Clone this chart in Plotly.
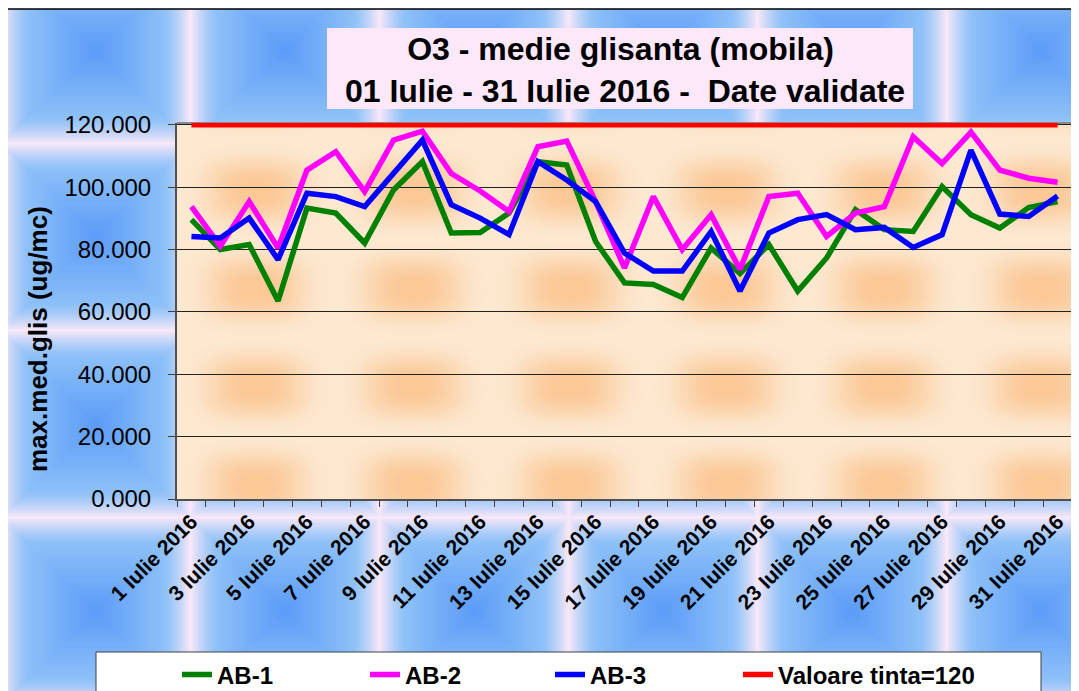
import base64
import struct
import zlib

import numpy as np
import plotly.graph_objects as go

# ---------- DATA ----------
days = list(range(1, 32))
day_labels = [f"{d} Iulie 2016" for d in days]

ab1 = [89.6, 80.0, 81.6, 63.5, 93.3, 91.7, 82.1, 99.1, 108.2, 85.3,
       85.5, 91.7, 108.2, 107.1, 82.6, 69.3, 68.8, 64.6, 80.5, 72.3,
       81.6, 66.7, 77.3, 92.8, 86.4, 85.8, 100.2, 91.2, 86.9, 93.5, 95.4]
ab2 = [93.8, 81.1, 95.4, 80.5, 105.5, 111.4, 98.6, 115.1, 118.0, 104.4,
       98.8, 92.2, 113.0, 114.8, 95.4, 74.1, 97.0, 80.0, 91.2, 73.6,
       97.0, 98.1, 84.2, 91.7, 93.8, 116.2, 107.6, 117.7, 105.5, 102.9, 101.6]
ab3 = [84.2, 83.7, 90.1, 76.8, 98.1, 97.0, 93.8, 104.5, 115.1, 94.4,
       90.1, 84.8, 108.2, 102.3, 95.4, 78.9, 73.1, 73.1, 85.8, 66.7,
       85.3, 89.6, 91.2, 86.4, 87.1, 80.7, 84.8, 111.9, 91.4, 90.6, 97.2]
tinta = [120, 120, 120, 120, 120, 120, 120, 120, 120, 120,
         120, 120, 120, 120, 120, 120, 120, 120, 120, 120,
         120, 120, 120, 120, 120, 120, 120, 120, 120, 120, 120]

series = [("AB-1", ab1, "#008000"),
          ("AB-2", ab2, "#FF00FF"),
          ("AB-3", ab3, "#0000FF"),
          ("Valoare tinta=120", tinta, "#FF0000")]

FONT = "Liberation Sans, Arial, sans-serif"

# page has an 8px body margin -> figure is drawn 8px right/down of the window origin
OFF = 8
FW, FH = 1079 - OFF, 691 - OFF

# plot area in window pixels
L, R, T, B = 177, 1072, 123, 499
W, H = R - L, B - T
px = lambda x: (x - L) / W
py = lambda y: (B - y) / H


# ---------- BACKGROUND TEXTURES (Excel-like fills) ----------
def png_uri(arr):
    h, w, _ = arr.shape
    raw = b"".join(b"\x00" + arr[i].tobytes() for i in range(h))

    def chunk(tag, data):
        c = struct.pack(">I", len(data)) + tag + data
        return c + struct.pack(">I", zlib.crc32(tag + data) & 0xFFFFFFFF)

    png = (b"\x89PNG\r\n\x1a\n"
           + chunk(b"IHDR", struct.pack(">IIBBBBB", w, h, 8, 2, 0, 0, 0))
           + chunk(b"IDAT", zlib.compress(raw, 9))
           + chunk(b"IEND", b""))
    return "data:image/png;base64," + base64.b64encode(png).decode()


def tile_xy(w, h, x0, y0, tw, th, cx0, cy0):
    xs = np.arange(w) + x0
    ys = np.arange(h) + y0
    dx = np.abs(((xs - cx0 + tw / 2) % tw) - tw / 2) / (tw / 2)
    dy = np.abs(((ys - cy0 + th / 2) % th) - th / 2) / (th / 2)
    return dx[None, :], dy[:, None]


# blue chart-area fill
dx, dy = tile_xy(1075, 682, 4, 9, 189, 187, 95.5, 49.5)
d = np.maximum(dx, dy)
c0 = np.array([92, 156, 248.0])
c1 = np.array([142, 193, 248.0])
c2 = np.array([248, 232, 248.0])
t1 = np.clip(d / 0.72, 0, 1)[..., None]
t2 = np.clip((d - 0.72) / 0.28, 0, 1)[..., None] ** 1.3
blue = c0 + (c1 - c0) * t1
blue = blue + (c2 - blue) * t2
paper_img = png_uri(blue.astype(np.uint8))

# peach plot-area fill (soft rounded blobs)
dx, dy = tile_xy(W, H, 0, 0, 157, 98, 78.5, 67)
d = (dx ** 3 + dy ** 3) ** (1 / 3)
edge = np.array([253, 232, 208.0])
core = np.array([251, 200, 150.0])
wgt = np.clip((0.95 - d) / 0.85, 0, 1)
wgt = (wgt * wgt * (3 - 2 * wgt))[..., None]
peach = edge + (core - edge) * wgt
plot_img = png_uri(peach.astype(np.uint8))

# ---------- FIGURE ----------
fig = go.Figure()
legend_keys = ["legend", "legend2", "legend3", "legend4"]
for (name, vals, col), lg in zip(series, legend_keys):
    fig.add_trace(go.Scatter(x=days, y=vals, name=name, mode="lines",
                             line=dict(color=col, width=5.5), legend=lg))

leg_text_x = [222, 410, 595, 783]
legends = {}
for lg, tx in zip(legend_keys, leg_text_x):
    legends[lg] = dict(x=px(tx - 45), y=py(675), xanchor="left", yanchor="middle",
                       orientation="h", bgcolor="rgba(0,0,0,0)", borderwidth=0,
                       font=dict(size=24, family=FONT, weight="bold"))

fig.update_layout(
    width=FW, height=FH,
    margin=dict(l=L - OFF, r=FW - (R - OFF), t=T - OFF, b=FH - (B - OFF),
                autoexpand=False),
    paper_bgcolor="white",
    plot_bgcolor="#fde3c9",
    font=dict(family=FONT, color="black"),
    showlegend=True,
    xaxis=dict(range=[0.5, 31.5], tickmode="array",
               tickvals=days[::2], ticktext=day_labels[::2], tickangle=-45,
               tickfont=dict(size=21, family=FONT, weight="bold"),
               ticks="", showgrid=False, zeroline=False, automargin=False,
               showline=True, linecolor="#505050", linewidth=2,
               minor=dict(tickvals=[v - 0.5 for v in days] + [31.5],
                          ticks="outside", ticklen=6, tickcolor="#404040",
                          tickwidth=1, showgrid=False)),
    yaxis=dict(range=[0, 120.6], tickmode="array",
               tickvals=[0, 20, 40, 60, 80, 100, 120], tickformat=".3f",
               tickfont=dict(size=24, family=FONT),
               ticks="outside", ticklen=7, tickcolor="#404040",
               ticklabelstandoff=12, automargin=False,
               showgrid=True, gridcolor="#222222", gridwidth=1,
               zeroline=False, showline=True, linecolor="#505050", linewidth=2),
    **legends,
)

fig.update_layout(images=[
    dict(source=paper_img, xref="paper", yref="paper", x=px(4), y=py(9),
         sizex=1075 / W, sizey=682 / H, xanchor="left", yanchor="top",
         sizing="stretch", layer="below"),
    dict(source=plot_img, xref="paper", yref="paper", x=0, y=1,
         sizex=1, sizey=1, xanchor="left", yanchor="top",
         sizing="stretch", layer="below"),
])

shapes = [
    # chart border
    dict(type="rect", xref="paper", yref="paper", x0=px(4), x1=px(1090),
         y0=py(700), y1=py(9), line=dict(color="black", width=1.5)),
    # plot area border top/right
    dict(type="line", xref="paper", yref="paper", x0=0, x1=1, y0=1, y1=1,
         line=dict(color="#8a8a8a", width=2), layer="below"),
    dict(type="line", xref="paper", yref="paper", x0=1, x1=1, y0=0, y1=1,
         line=dict(color="#8a8a8a", width=2), layer="below"),
    # title box
    dict(type="rect", xref="paper", yref="paper", x0=px(327), x1=px(913),
         y0=py(109), y1=py(28), fillcolor="#fce8f8", line=dict(width=0)),
    # legend box
    dict(type="rect", xref="paper", yref="paper", x0=px(96), x1=px(1041),
         y0=py(700), y1=py(652), fillcolor="white",
         line=dict(color="#404040", width=1)),
]
fig.update_layout(shapes=shapes)

fig.add_annotation(xref="paper", yref="paper", x=px(620), y=py(70),
                   text="O3 - medie glisanta (mobila)<br> 01 Iulie - 31 Iulie 2016 -  Date validate",
                   showarrow=False, xanchor="center", yanchor="middle",
                   font=dict(size=32, family=FONT, weight="bold"))
fig.add_annotation(xref="paper", yref="paper", x=px(38), y=py(339),
                   text="max.med.glis (ug/mc)", textangle=-90, showarrow=False,
                   xanchor="center", yanchor="middle",
                   font=dict(size=26, family=FONT, weight="bold"))

fig.write_html("out.html")
